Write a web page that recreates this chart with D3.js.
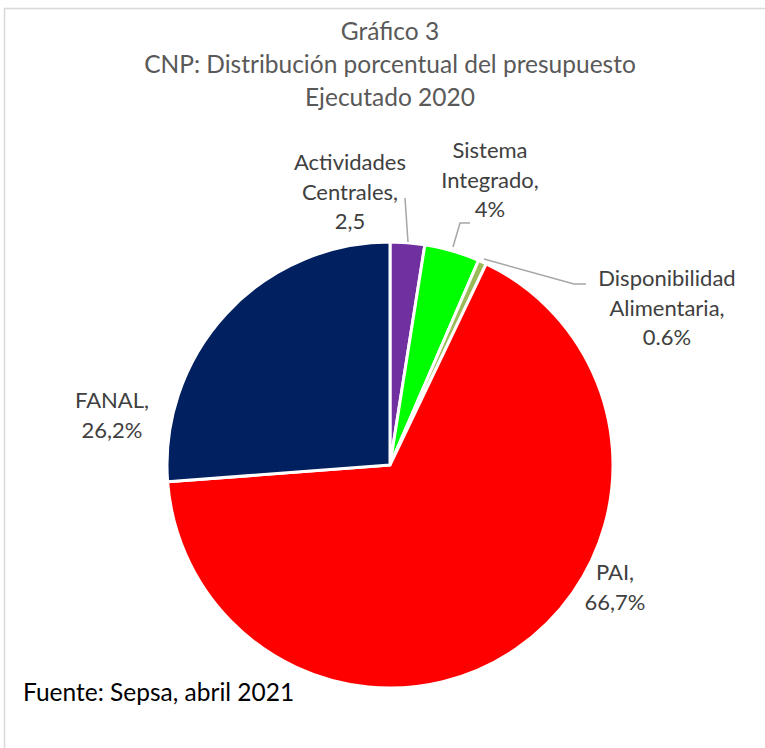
<!DOCTYPE html>
<html>
<head>
<meta charset="utf-8">
<script src="https://cdn.jsdelivr.net/npm/d3@7"></script>
<style>
  body { margin: 0; background: #fff; }
  svg { display: block; font-family: Lato, "Open Sans", sans-serif; }
</style>
</head>
<body>
<div id="chart"></div>
<script>
// data
var categories = ["Actividades Centrales", "Sistema Integrado", "Disponibilidad Alimentaria", "PAI", "FANAL"];
var values = [2.5, 4, 0.6, 66.7, 26.2];
var valueLabels = ["2,5", "4%", "0.6%", "66,7%", "26,2%"];
var colors = ["#7030A0", "#00FF00", "#9BBB59", "#FF0000", "#002060"];

var titleLines = ["Gráfico 3", "CNP: Distribución porcentual del presupuesto", "Ejecutado 2020"];
var sourceText = "Fuente: Sepsa, abril 2021";

var svgWidth = 765, svgHeight = 748;
var cx = 390, cy = 465, radius = 223;

var svg = d3.select('#chart')
    .append('svg')
    .attr('width', svgWidth)
    .attr('height', svgHeight);

// chart frame (right and bottom fall outside the picture)
svg.append('rect')
    .attr('x', 4.5).attr('y', 8.5)
    .attr('width', 800).attr('height', 800)
    .attr('fill', 'none')
    .attr('stroke', '#d9d9d9')
    .attr('stroke-width', 1.5);

// title
svg.append('g').selectAll('text')
    .data(titleLines)
    .enter()
    .append('text')
    .attr('x', 390)
    .attr('y', (d, i) => 40 + i * 33)
    .attr('text-anchor', 'middle')
    .attr('font-size', 24.5)
    .attr('fill', '#595959')
    .text(d => d);

// pie
var pie = d3.pie().sort(null).value(d => d);
var arc = d3.arc().innerRadius(0).outerRadius(radius);

var pieGroup = svg.append('g')
    .attr('transform', `translate(${cx}, ${cy})`);

pieGroup.selectAll('path')
    .data(pie(values))
    .enter()
    .append('path')
    .attr('d', arc)
    .attr('fill', (d, i) => colors[i])
    .attr('stroke', '#fff')
    .attr('stroke-width', 3)
    .attr('stroke-linejoin', 'round');

// leader lines
var leaders = [
    [[405, 198], [408, 242]],
    [[470, 223], [460, 223], [453, 247]],
    [[484, 259], [574, 284], [586, 284]]
];
svg.append('g').selectAll('polyline')
    .data(leaders)
    .enter()
    .append('polyline')
    .attr('points', d => d.map(p => p.join(',')).join(' '))
    .attr('fill', 'none')
    .attr('stroke', '#a6a6a6')
    .attr('stroke-width', 1.5);

// data labels
var labelPos = [
    {x: 350, y: 170, lines: ["Actividades", "Centrales,", valueLabels[0]]},
    {x: 490, y: 158, lines: ["Sistema", "Integrado,", valueLabels[1]]},
    {x: 667, y: 286, lines: ["Disponibilidad", "Alimentaria,", valueLabels[2]]},
    {x: 615, y: 580, lines: ["PAI,", valueLabels[3]]},
    {x: 112, y: 408, lines: ["FANAL,", valueLabels[4]]}
];

var labelGroup = svg.append('g');
labelPos.forEach(function(lp) {
    var t = labelGroup.append('text')
        .attr('text-anchor', 'middle')
        .attr('font-size', 22)
        .attr('fill', '#404040');
    lp.lines.forEach(function(line, j) {
        t.append('tspan')
            .attr('x', lp.x)
            .attr('y', lp.y + j * 29.5)
            .text(line);
    });
});

// source
svg.append('text')
    .attr('x', 23)
    .attr('y', 701)
    .attr('font-size', 24.5)
    .attr('fill', '#000')
    .text(sourceText);
</script>
</body>
</html>
